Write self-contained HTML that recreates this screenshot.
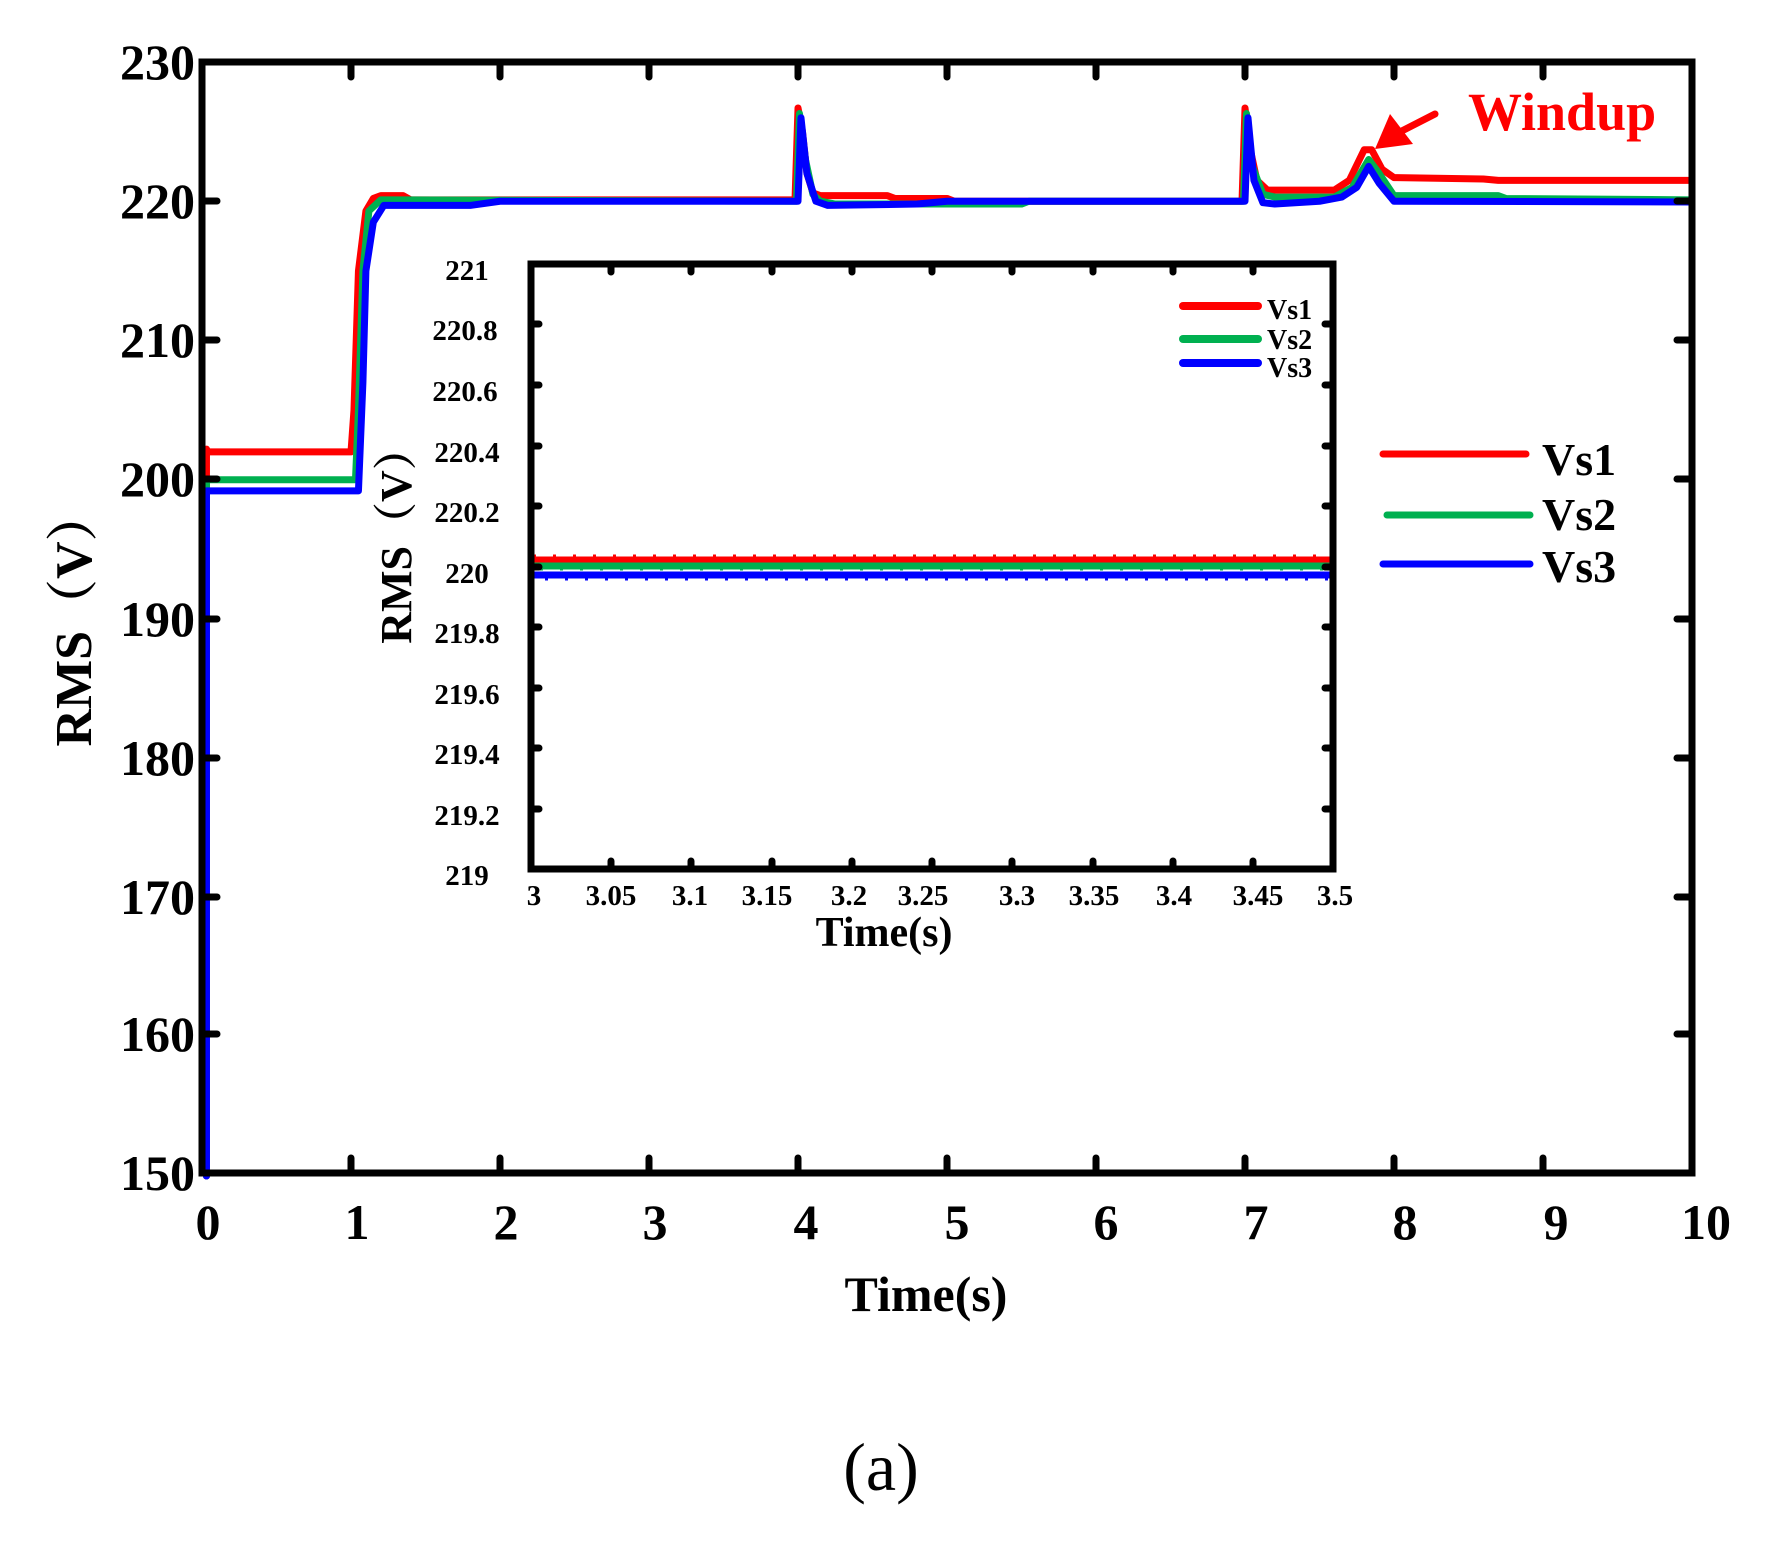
<!DOCTYPE html>
<html><head><meta charset="utf-8"><style>
html,body{margin:0;padding:0;background:#fff;}
svg{display:block;}
text{font-family:"Liberation Serif","Noto Serif CJK SC",serif;font-weight:bold;fill:#000;}
</style></head><body>
<svg width="1773" height="1550" viewBox="0 0 1773 1550" xmlns="http://www.w3.org/2000/svg">
<rect width="1773" height="1550" fill="#fff"/>
<!-- main series -->
<g transform="matrix(149 0 0 -13.925 202 3264.75)" fill="none" stroke-linejoin="round" stroke-linecap="round">
<path vector-effect="non-scaling-stroke" stroke="#ff0000" stroke-width="7" d="M0.03,150 L0.03,202.2 L0.04,202 L1,202 L1.02,205 L1.05,215 L1.1,219.3 L1.15,220.2 L1.2,220.4 L1.35,220.4 L1.4,220.1 L3.98,220.1 L4.0,226.7 L4.03,225 L4.06,222 L4.1,220.6 L4.15,220.4 L4.6,220.4 L4.65,220.2 L5.0,220.2 L5.05,220 L6.98,220 L7.0,226.7 L7.03,224 L7.08,221.5 L7.15,220.8 L7.6,220.8 L7.7,221.5 L7.8,223.7 L7.85,223.7 L7.92,222.3 L8.0,221.7 L8.6,221.6 L8.7,221.5 L10,221.5"/>
<path vector-effect="non-scaling-stroke" stroke="#00b050" stroke-width="7" d="M0.03,150 L0.03,200 L1.03,200 L1.05,205 L1.08,215 L1.12,219.3 L1.2,220.1 L1.3,220.1 L3.99,220 L4.01,226.3 L4.05,223 L4.1,220.5 L4.15,220 L4.25,219.8 L5.5,219.8 L5.55,220 L6.99,220 L7.01,226.3 L7.05,222.5 L7.12,220.5 L7.2,220.3 L7.6,220.3 L7.72,221 L7.83,223 L7.9,222 L8.0,220.4 L8.7,220.4 L8.75,220.2 L10,220.1"/>
<path vector-effect="non-scaling-stroke" stroke="#0000ff" stroke-width="7" d="M0.03,150 L0.03,199.2 L1.05,199.2 L1.08,207 L1.1,215 L1.15,218.5 L1.22,219.7 L1.8,219.7 L2,220 L4.0,220 L4.02,226 L4.06,222 L4.12,220 L4.2,219.7 L4.8,219.8 L5,220 L7.0,220 L7.02,226 L7.06,221.5 L7.12,219.9 L7.2,219.8 L7.5,220 L7.65,220.3 L7.75,221 L7.83,222.5 L7.9,221.3 L8.0,220 L10,219.95"/>
</g>
<!-- main frame -->
<rect x="202" y="62" width="1490" height="1111" fill="none" stroke="#000" stroke-width="7"/>
<g stroke="#000" stroke-width="7" stroke-linecap="round">
<path d="M351,1173v-15M500,1173v-15M649,1173v-15M798,1173v-15M947,1173v-15M1096,1173v-15M1245,1173v-15M1394,1173v-15M1543,1173v-15"/>
<path d="M351,62v15M500,62v15M649,62v15M798,62v15M947,62v15M1096,62v15M1245,62v15M1394,62v15M1543,62v15"/>
<path d="M202,201h15M202,340h15M202,479h15M202,619h15M202,758h15M202,897h15M202,1034h15"/>
<path d="M1692,201h-15M1692,340h-15M1692,479h-15M1692,619h-15M1692,758h-15M1692,897h-15M1692,1034h-15"/>
</g>
<g font-size="50" text-anchor="end">
<text x="195" y="79">230</text><text x="195" y="218">220</text><text x="195" y="357">210</text>
<text x="195" y="496">200</text><text x="195" y="636">190</text><text x="195" y="775">180</text>
<text x="195" y="914">170</text><text x="195" y="1051">160</text><text x="195" y="1190">150</text>
</g>
<g font-size="50" text-anchor="middle">
<text x="208" y="1239">0</text><text x="357" y="1239">1</text><text x="506" y="1239">2</text>
<text x="655" y="1239">3</text><text x="806" y="1239">4</text><text x="957" y="1239">5</text>
<text x="1106" y="1239">6</text><text x="1256" y="1239">7</text><text x="1405" y="1239">8</text>
<text x="1556" y="1239">9</text><text x="1706" y="1239">10</text>
<text x="926" y="1311">Time(s)</text>
</g>
<text transform="translate(91,618) rotate(-90)" font-size="52" text-anchor="middle">RMS（V）</text>
<text x="881" y="1490" font-size="68" text-anchor="middle" style="font-weight:normal">(a)</text>
<!-- windup -->
<text x="1468" y="130" font-size="54" style="fill:#ff0000">Windup</text>
<path d="M1435,114 L1392,136" stroke="#ff0000" stroke-width="7" stroke-linecap="round"/>
<polygon points="1375,149 1390,114 1413,144" fill="#ff0000"/>
<!-- legend -->
<g stroke-width="7" stroke-linecap="round">
<path d="M1383,454H1526" stroke="#ff0000"/>
<path d="M1387,515H1530" stroke="#00b050"/>
<path d="M1383,564H1530" stroke="#0000ff"/>
</g>
<g font-size="46"><text x="1542" y="475">Vs1</text><text x="1542" y="530">Vs2</text><text x="1542" y="582">Vs3</text></g>
<!-- inset -->
<rect x="531" y="264" width="802" height="605" fill="#fff"/>
<g stroke-width="7" stroke-linecap="round">
<path d="M533,560H1331" stroke="#ff0000"/>
<path d="M533,566H1331" stroke="#00b050"/>
<path d="M533,575H1331" stroke="#0000ff"/>
</g>
<g stroke-width="3" stroke-dasharray="3 17">
<path d="M533,556H1331" stroke="#ff0000"/>
<path d="M540,569H1331" stroke="#00b050"/>
<path d="M545,579H1331" stroke="#0000ff"/>
</g>
<rect x="531" y="264" width="802" height="605" fill="none" stroke="#000" stroke-width="7"/>
<g stroke="#000" stroke-width="7" stroke-linecap="round">
<path d="M611,869v-8M691,869v-8M772,869v-8M852,869v-8M932,869v-8M1012,869v-8M1093,869v-8M1173,869v-8M1253,869v-8"/>
<path d="M611,264v8M691,264v8M772,264v8M852,264v8M932,264v8M1012,264v8M1093,264v8M1173,264v8M1253,264v8"/>
<path d="M531,324h8M531,385h8M531,446h8M531,506h8M531,567h8M531,627h8M531,688h8M531,748h8M531,809h8"/>
<path d="M1333,324h-8M1333,385h-8M1333,446h-8M1333,506h-8M1333,567h-8M1333,627h-8M1333,688h-8M1333,748h-8M1333,809h-8"/>
</g>
<g font-size="29" text-anchor="middle">
<text x="467" y="280">221</text><text x="465" y="340">220.8</text><text x="465" y="401">220.6</text>
<text x="467" y="462">220.4</text><text x="467" y="522">220.2</text><text x="467" y="583">220</text>
<text x="467" y="643">219.8</text><text x="467" y="704">219.6</text><text x="467" y="764">219.4</text>
<text x="467" y="825">219.2</text><text x="467" y="885">219</text>
</g>
<g font-size="29" text-anchor="middle">
<text x="534" y="905">3</text><text x="611" y="905">3.05</text><text x="690" y="905">3.1</text>
<text x="767" y="905">3.15</text><text x="849" y="905">3.2</text><text x="923" y="905">3.25</text>
<text x="1017" y="905">3.3</text><text x="1094" y="905">3.35</text><text x="1174" y="905">3.4</text>
<text x="1258" y="905">3.45</text><text x="1335" y="905">3.5</text>
<text x="884" y="946" font-size="42">Time(s)</text>
</g>
<text transform="translate(411,535) rotate(-90)" font-size="44" text-anchor="middle">RMS（V）</text>
<g stroke-width="8" stroke-linecap="round">
<path d="M1183,306H1258" stroke="#ff0000"/>
<path d="M1183,339H1258" stroke="#00b050"/>
<path d="M1183,363H1258" stroke="#0000ff"/>
</g>
<g font-size="28"><text x="1267" y="319">Vs1</text><text x="1267" y="349">Vs2</text><text x="1267" y="377">Vs3</text></g>
</svg>
</body></html>
